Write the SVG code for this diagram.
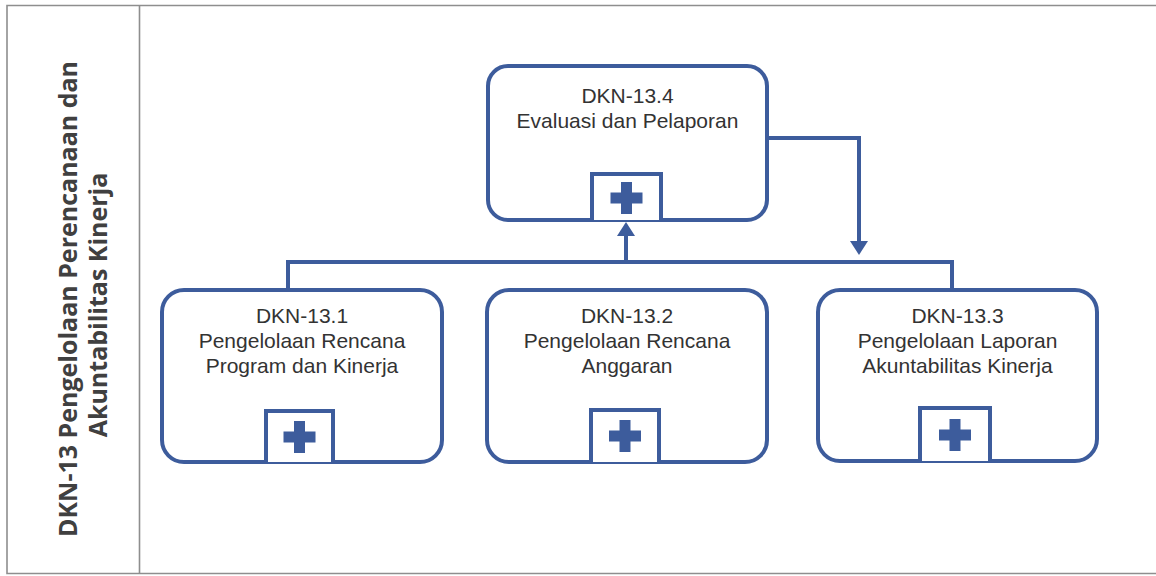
<svg xmlns="http://www.w3.org/2000/svg" width="1156" height="576" viewBox="0 0 1156 576">
<style>
.frame{fill:none;stroke:#8e8e8e;stroke-width:1.6}
.box{fill:#ffffff;stroke:#3d5c9c;stroke-width:4}
.pbox{fill:#ffffff;stroke:#3d5c9c;stroke-width:4}
.plus{fill:#3d5c9c}
.lbl{font-family:"Liberation Sans",Arial,sans-serif;font-size:21px;fill:#333333;text-anchor:middle}
.side{font-family:"Open Sans","Noto Sans",sans-serif;font-weight:700;font-size:25px;fill:#404040;text-anchor:middle}
.conn{fill:none;stroke:#3d5c9c;stroke-width:4}
</style>
<defs>
<marker id="arr" markerUnits="userSpaceOnUse" markerWidth="14" markerHeight="18" refX="0" refY="9" orient="auto">
<path d="M0,0 L14,9 L0,18 z" fill="#3d5c9c"/>
</marker>
<g id="plusmark">
<rect x="-16" y="-5.5" width="32" height="11"/>
<rect x="-5.5" y="-16" width="11" height="32"/>
</g>
</defs>
<rect x="0" y="0" width="1156" height="576" fill="#ffffff"/>
<g id="frame">
<path class="frame" d="M1156,5.5 H7 V573.5 H1156"/>
<path class="frame" d="M139.5,5.5 V573.5"/>
</g>
<g id="side-label">
<text class="side" transform="translate(77,299) rotate(-90)">DKN-13 Pengelolaan Perencanaan dan</text>
<text class="side" transform="translate(107,305) rotate(-90)">Akuntabilitas Kinerja</text>
</g>
<g id="connectors">
<path class="conn" d="M288,290 V262 H952 V290"/>
<path class="conn" d="M626,262 V236" marker-end="url(#arr)"/>
<path class="conn" d="M767,138 H859 V241" marker-end="url(#arr)"/>
</g>
<g id="node-13-4">
<rect class="box" x="488" y="66" width="279" height="154" rx="20"/>
<path class="pbox" d="M592,220 V174 H661 V220"/>
<use href="#plusmark" class="plus" transform="translate(626.5,198)"/>
<text class="lbl" x="627.5" y="103">DKN-13.4</text>
<text class="lbl" x="627.5" y="128">Evaluasi dan Pelaporan</text>
</g>
<g id="node-13-1">
<rect class="box" x="162" y="290" width="280" height="172" rx="22"/>
<path class="pbox" d="M266,462 V411 H333 V462"/>
<use href="#plusmark" class="plus" transform="translate(299.5,437)"/>
<text class="lbl" x="302" y="323">DKN-13.1</text>
<text class="lbl" x="302" y="348">Pengelolaan Rencana</text>
<text class="lbl" x="302" y="373">Program dan Kinerja</text>
</g>
<g id="node-13-2">
<rect class="box" x="487" y="290" width="280" height="172" rx="22"/>
<path class="pbox" d="M591,462 V410 H659 V462"/>
<use href="#plusmark" class="plus" transform="translate(625,436)"/>
<text class="lbl" x="627" y="323">DKN-13.2</text>
<text class="lbl" x="627" y="348">Pengelolaan Rencana</text>
<text class="lbl" x="627" y="373">Anggaran</text>
</g>
<g id="node-13-3">
<rect class="box" x="818" y="290" width="279" height="171" rx="22"/>
<path class="pbox" d="M920,461 V408 H990 V461"/>
<use href="#plusmark" class="plus" transform="translate(955,435)"/>
<text class="lbl" x="957.5" y="323">DKN-13.3</text>
<text class="lbl" x="957.5" y="348">Pengelolaan Laporan</text>
<text class="lbl" x="957.5" y="373">Akuntabilitas Kinerja</text>
</g>
</svg>
